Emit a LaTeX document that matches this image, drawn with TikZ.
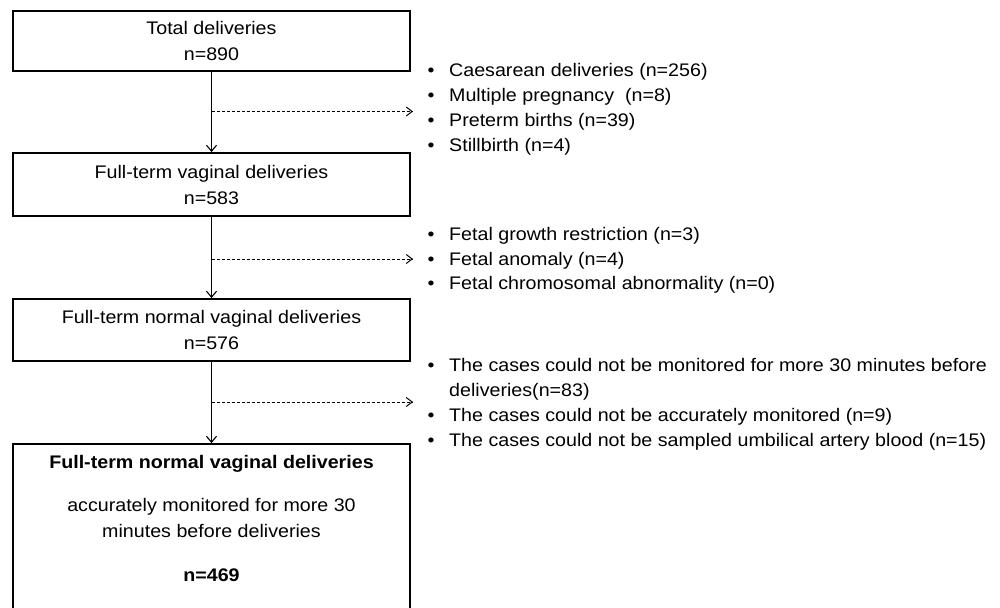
\documentclass[tikz,border=0pt]{standalone}
\usepackage{fontspec}
\setmainfont{Liberation Sans}[FakeStretch=1.08]
\usetikzlibrary{arrows.meta}
\newcommand\mainsz{\fontsize{18.2}{26}\selectfont}
\begin{document}
\begin{tikzpicture}[x=1pt,y=-1pt,
  box/.style={draw,line width=1.8pt,inner sep=0pt,align=center,font=\mainsz,minimum width=397pt},
  txt/.style={inner sep=0pt,font=\mainsz,anchor=base west},
  ctxt/.style={inner sep=0pt,font=\mainsz,anchor=base,align=center},
  arr/.style={line width=1.1pt,-{Straight Barb[length=6pt,width=10pt,line width=1.1pt]}},
  darr/.style={line width=1pt,dash pattern=on 3pt off 2pt,-{Straight Barb[length=6pt,width=9pt,line width=1pt]}}]
\useasboundingbox (0,0) rectangle (1000,607);
\clip (0,0) rectangle (1000,607);
\newcommand\bul{\makebox[22pt][l]{\hspace{0.5pt}•}}
% boxes
\node[box,minimum height=60pt] (b1) at (211.5,41) {Total deliveries\\n=890};
\node[box,minimum height=63pt] (b2) at (211.5,184.5) {Full-term vaginal deliveries\\n=583};
\node[box,minimum height=62pt] (b3) at (211.5,330) {Full-term normal vaginal deliveries\\n=576};
\node[box,minimum height=180pt] (b4) at (211.5,534) {};
\node[ctxt,font=\mainsz\bfseries] (t4a) at (211.5,468.3) {Full-term normal vaginal deliveries};
\node[ctxt] (t4b) at (211.5,537.3) {accurately monitored for more 30\\minutes before deliveries};
\node[ctxt,font=\mainsz\bfseries] (t4c) at (211.5,581.7) {n=469};
% main arrows
\draw[arr] (b1.south) -- (b2.north);
\draw[arr] (b2.south) -- (b3.north);
\draw[arr] (b3.south) -- (b4.north);
% exclusion lists
\node[txt] (l1a) at (427,76.7) {\bul Caesarean deliveries (n=256)};
\node[txt] (l1b) at (427,101.2) {\bul Multiple pregnancy\ \ (n=8)};
\node[txt] (l1c) at (427,126.4) {\bul Preterm births (n=39)};
\node[txt] (l1d) at (427,151.5) {\bul Stillbirth (n=4)};
\node[txt] (l2a) at (427,240.5) {\bul Fetal growth restriction (n=3)};
\node[txt] (l2b) at (427,265) {\bul Fetal anomaly (n=4)};
\node[txt] (l2c) at (427,289.5) {\bul Fetal chromosomal abnormality (n=0)};
\node[txt] (l3a) at (427,371) {\bul The cases could not be monitored for more 30 minutes before};
\node[txt] (l3b) at (427,396) {\hspace*{22pt}deliveries(n=83)};
\node[txt] (l3c) at (427,421.5) {\bul The cases could not be accurately monitored (n=9)};
\node[txt] (l3d) at (427,446.5) {\bul The cases could not be sampled umbilical artery blood (n=15)};
% side arrows
\coordinate (j1) at (211.5,111.5);
\coordinate (e1) at (413,111.5);
\coordinate (j2) at (211.5,259);
\coordinate (e2) at (413,259);
\coordinate (j3) at (211.5,402);
\coordinate (e3) at (413,402);
\draw[darr] (j1) -- (e1);
\draw[darr] (j2) -- (e2);
\draw[darr] (j3) -- (e3);
\end{tikzpicture}
\end{document}
